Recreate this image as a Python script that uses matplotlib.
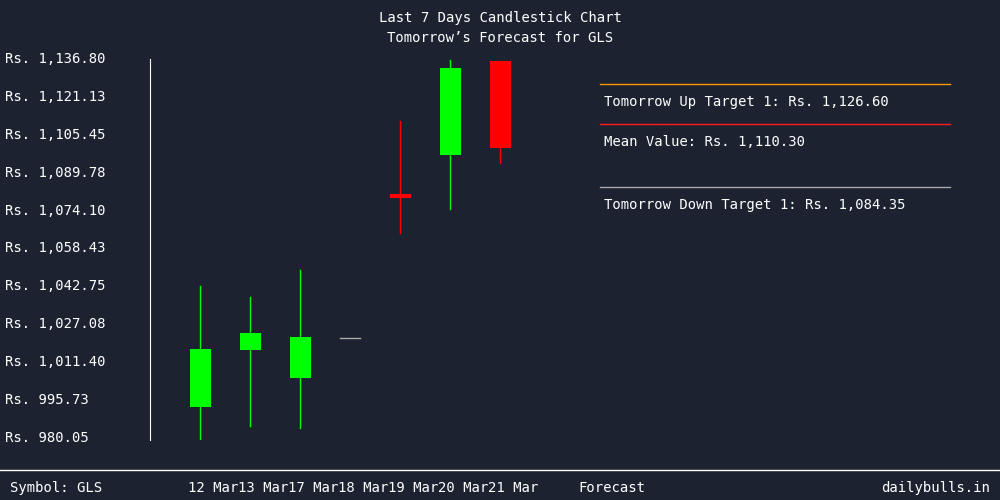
import matplotlib.pyplot as plt
from matplotlib.transforms import blended_transform_factory

dates = ['12 Mar', '13 Mar', '17 Mar', '18 Mar', '19 Mar', '20 Mar', '21 Mar']
opens = [992.9, 1016.4, 1004.9, 1021.4, 1081.1, 1097.1, 1135.9]
closes = [1016.9, 1023.5, 1021.8, 1021.4, 1079.5, 1133.1, 1100.0]
highs = [1042.9, 1038.4, 1049.5, 1021.4, 1111.2, 1136.4, 1136.0]
lows = [979.2, 985.0, 984.2, 1021.4, 1064.8, 1074.8, 1093.8]
yticks = [980.05, 995.73, 1011.40, 1027.08, 1042.75, 1058.43, 1074.10,
          1089.78, 1105.45, 1121.13, 1136.80]
targets = [('Tomorrow Up Target 1: Rs. 1,126.60', '#ff9900', 84),
           ('Mean Value: Rs. 1,110.30', '#ff1a1a', 124),
           ('Tomorrow Down Target 1: Rs. 1,084.35', '#aaaaaa', 187)]

bg = '#1c2230'
plt.rcParams['font.family'] = 'DejaVu Sans Mono'
fig = plt.figure(figsize=(10, 5), dpi=100, facecolor=bg)
ax = fig.add_axes([0.15, 0.12, 0.40, 0.762])
ax.set_facecolor(bg)
ax.set_xlim(-1, 7)
ax.set_ylim(979.22, 1136.8)
for s in ['top', 'right', 'bottom']:
    ax.spines[s].set_visible(False)
ax.spines['left'].set_color('white')
ax.set_xticks([])
ax.set_yticks([])

for i in range(len(dates)):
    o, c, h, l = opens[i], closes[i], highs[i], lows[i]
    if o == c:
        ax.plot([i - 0.2, i + 0.2], [o, c], color='#aaaaaa', lw=1)
        continue
    col = '#00ff00' if c > o else '#ff0000'
    ax.plot([i, i], [l, h], color=col, lw=1)
    ax.bar(i, abs(c - o), bottom=min(o, c), width=0.42, color=col)

tr = blended_transform_factory(fig.transFigure, ax.transData)
for v in yticks:
    fig.text(0.005, v, f'Rs. {v:,.2f}', transform=tr, color='white',
             fontsize=10, va='center', ha='left')

fig.text(0.5, 1 - 18 / 500, 'Last 7 Days Candlestick Chart', color='white',
         fontsize=10, ha='center', va='center')
fig.text(0.5, 1 - 38 / 500, 'Tomorrow\u2019s Forecast for GLS', color='white',
         fontsize=10, ha='center', va='center')

for txt, col, y in targets:
    fig.add_artist(plt.Line2D([0.6, 0.95], [1 - y / 500] * 2, color=col, lw=1))
    fig.text(0.604, 1 - (y + 18) / 500, txt, color='white', fontsize=10,
             va='center', ha='left')

fig.add_artist(plt.Line2D([0, 1], [1 - 470 / 500] * 2, color='white', lw=1))
yb = 1 - 488 / 500
fig.text(0.01, yb, 'Symbol: GLS', color='white', fontsize=10, va='center')
for i, d in enumerate(dates):
    fig.text((213 + 50 * i) / 1000, yb, d, color='white', fontsize=10,
             va='center', ha='center')
fig.text(0.612, yb, 'Forecast', color='white', fontsize=10, va='center', ha='center')
fig.text(0.99, yb, 'dailybulls.in', color='white', fontsize=10, va='center', ha='right')

fig.savefig('out.png', dpi=100, facecolor=bg)
